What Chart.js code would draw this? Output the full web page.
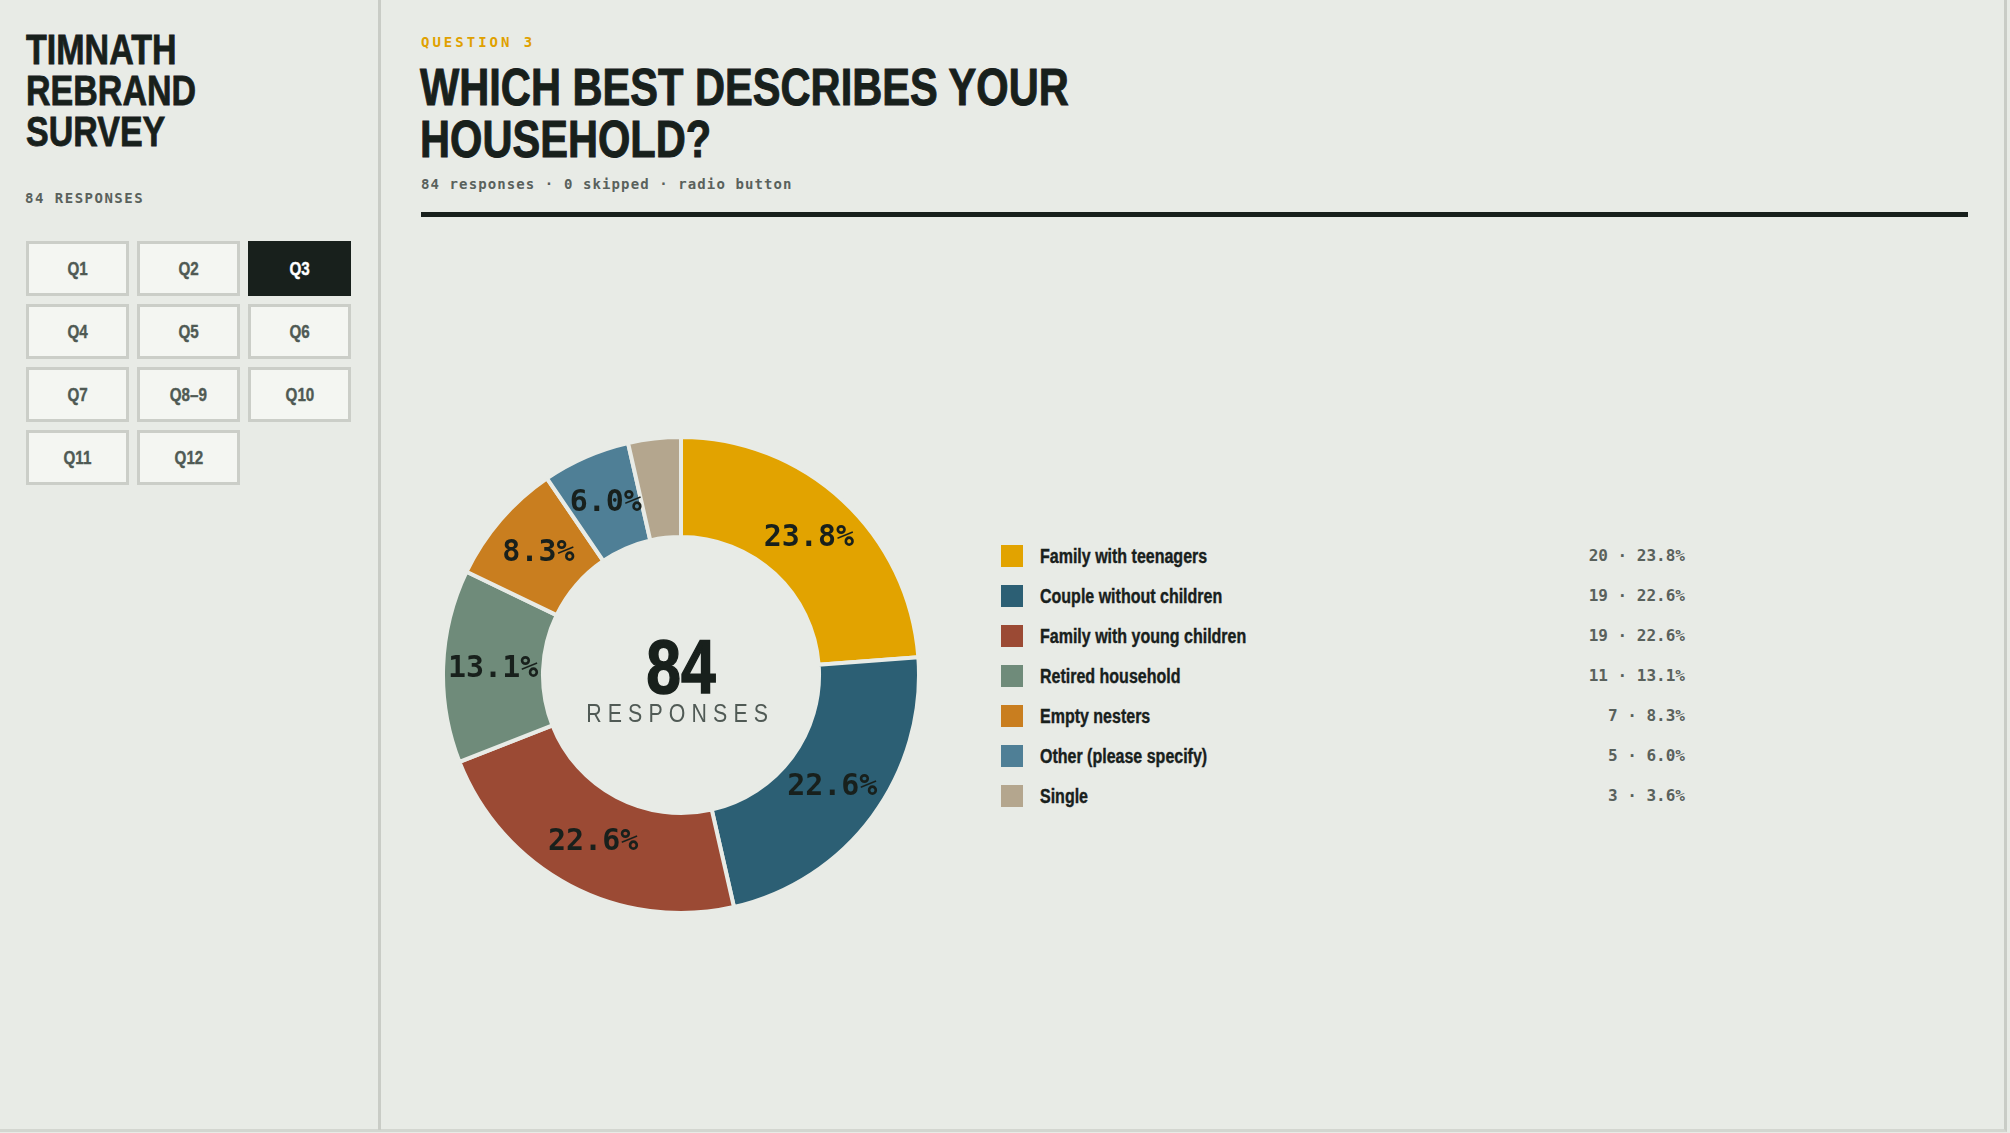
<!DOCTYPE html>
<html>
<head>
<meta charset="utf-8">
<script src="https://cdn.jsdelivr.net/npm/chart.js@4"></script>
<style>
  html, body { margin: 0; padding: 0; }
  body {
    width: 2010px; height: 1133px; overflow: hidden;
    background: #e8ebe6; position: relative;
    font-family: "Liberation Sans", Arial, sans-serif;
    color: #18201c;
  }
  .frame {
    position: absolute; left: 0; top: 0; width: 2004px; height: 1129px;
    border-right: 3px solid #c9ccc6; border-bottom: 3px solid #d3d6d0;
  }
  .divider { position: absolute; left: 378px; top: 0; width: 3px; height: 1130px; background: #c9ccc6; }
  .abs { position: absolute; white-space: nowrap; }
  /* no narrow face installed, so squeeze the bold sans sideways */
  .nar { display: inline-block; transform: scaleX(0.8); transform-origin: left center; white-space: nowrap; }
  .mono { font-family: "DejaVu Sans Mono", "Liberation Mono", monospace; }
  .side-title { left: 26px; font-size: 42px; line-height: 40px; font-weight: bold; -webkit-text-stroke: 0.8px #18201c; }
  .side-title .nar { transform: scaleX(0.81); }
  #side-count { left: 25px; top: 191px; font-size: 14px; line-height: 14px; letter-spacing: 1.5px; font-weight: bold; color: #59615c; }
  .qbtn {
    position: absolute; width: 97px; height: 49px; box-sizing: content-box;
    border: 3px solid #cbcec8; background: #f4f6f2;
    font-weight: bold; font-size: 19px; line-height: 49px; text-align: center; color: #4f5a54;
    -webkit-text-stroke: 0.4px #4f5a54;
  }
  .qbtn .nar { transform-origin: center center; }
  .qbtn.active { background: #18201c; border-color: #18201c; color: #ffffff; -webkit-text-stroke: 0.4px #ffffff; }
  #q-label { left: 421px; top: 35px; font-size: 14px; line-height: 14px; letter-spacing: 3px; font-weight: bold; color: #e0a100; }
  .q-title { left: 420px; font-size: 52px; line-height: 50px; font-weight: bold; -webkit-text-stroke: 1px #18201c; }
  #q-meta { left: 421px; top: 177px; font-size: 14px; line-height: 14px; letter-spacing: 1.1px; font-weight: bold; color: #59615c; }
  #q-rule { position: absolute; left: 421px; top: 212px; width: 1547px; height: 5px; background: #18201c; }
  #chart-box { position: absolute; left: 441px; top: 435px; width: 480px; height: 480px; }
  #legend { position: absolute; left: 1001px; top: 545px; width: 684px; }
  .row { display: flex; align-items: center; height: 22px; margin-bottom: 18px; }
  .sw { width: 22px; height: 22px; flex: none; }
  .lab { margin-left: 17px; font-size: 20px; line-height: 22px; font-weight: bold; flex: 1; -webkit-text-stroke: 0.4px #18201c; }
  .val { font-family: "DejaVu Sans Mono", "Liberation Mono", monospace; font-size: 16px; line-height: 22px; font-weight: bold; color: #59615c; }
</style>
</head>
<body>
<div class="frame"></div>
<div class="divider"></div>

<div class="abs side-title" style="top:30px"><span class="nar">TIMNATH</span></div>
<div class="abs side-title" style="top:71px"><span class="nar">REBRAND</span></div>
<div class="abs side-title" style="top:112px"><span class="nar">SURVEY</span></div>
<div id="side-count" class="abs mono">84 RESPONSES</div>
<div id="qnav"></div>

<div id="q-label" class="abs mono">QUESTION 3</div>
<div class="abs q-title" style="top:62px"><span class="nar">WHICH BEST DESCRIBES YOUR</span></div>
<div class="abs q-title" style="top:114px"><span class="nar">HOUSEHOLD?</span></div>
<div id="q-meta" class="abs mono">84 responses · 0 skipped · radio button</div>
<div id="q-rule"></div>

<div id="chart-box"><canvas id="donut"></canvas></div>
<div id="legend"></div>

<script>
// answers for question 3, in the order of the ring (clockwise from the top)
const answers = ['Family with teenagers', 'Couple without children', 'Family with young children',
  'Retired household', 'Empty nesters', 'Other (please specify)', 'Single'];
const counts = [20, 19, 19, 11, 7, 5, 3];
const sliceColors = ['#e2a300', '#2c5f74', '#9b4a34', '#6f8b7a', '#c97e1f', '#4f7f96', '#b4a68e'];
const questions = ['Q1', 'Q2', 'Q3', 'Q4', 'Q5', 'Q6', 'Q7', 'Q8–9', 'Q10', 'Q11', 'Q12'];
const currentQuestion = 'Q3';

const total = counts.reduce((a, b) => a + b, 0);
const pct = v => (v / total * 100).toFixed(1);

// sidebar question buttons
let qnav = document.getElementById('qnav');
questions.forEach((q, i) => {
  let b = document.createElement('div');
  b.className = 'qbtn' + (q == currentQuestion ? ' active' : '');
  b.style.left = (26 + (i % 3) * 111) + 'px';
  b.style.top = (241 + Math.floor(i / 3) * 63) + 'px';
  b.innerHTML = '<span class="nar">' + q + '</span>';
  qnav.appendChild(b);
});

// legend on the right
let legend = document.getElementById('legend');
answers.forEach((name, i) => {
  let row = document.createElement('div');
  row.className = 'row';
  row.innerHTML = '<div class="sw" style="background:' + sliceColors[i] + '"></div>' +
    '<div class="lab"><span class="nar">' + name + '</span></div>' +
    '<div class="val">' + counts[i] + ' · ' + pct(counts[i]) + '%</div>';
  legend.appendChild(row);
});

// percent labels on the ring + the total in the hole
const ringText = {
  id: 'ringText',
  afterDatasetsDraw(chart) {
    const ctx = chart.ctx;
    const meta = chart.getDatasetMeta(0);
    ctx.save();
    ctx.fillStyle = '#18201c';
    ctx.textAlign = 'center';
    ctx.textBaseline = 'middle';
    ctx.font = 'bold 30px "DejaVu Sans Mono", monospace';
    meta.data.forEach((arc, i) => {
      if (counts[i] / total < 0.05) return; // too thin for a label
      const p = arc.tooltipPosition();
      ctx.fillText(pct(counts[i]) + '%', p.x, p.y + 1);
    });

    const cx = (chart.chartArea.left + chart.chartArea.right) / 2;
    const cy = (chart.chartArea.top + chart.chartArea.bottom) / 2;
    ctx.textBaseline = 'alphabetic';
    ctx.translate(cx, cy);
    ctx.save();
    ctx.scale(0.82, 1);
    ctx.font = 'bold 76px "Liberation Sans", Arial, sans-serif';
    ctx.strokeStyle = '#18201c';
    ctx.lineWidth = 1.5;
    ctx.fillText(String(total), 0, 18);
    ctx.strokeText(String(total), 0, 18);
    ctx.restore();
    ctx.scale(0.82, 1);
    ctx.font = '26px "Liberation Sans", Arial, sans-serif';
    ctx.fillStyle = '#505a55';
    ctx.letterSpacing = '7.5px';
    ctx.fillText('RESPONSES', -1, 47);
    ctx.restore();
  }
};

new Chart(document.getElementById('donut'), {
  type: 'doughnut',
  data: {
    labels: answers,
    datasets: [{
      data: counts,
      backgroundColor: sliceColors,
      borderColor: '#e8ebe6',
      borderWidth: 4
    }]
  },
  options: {
    responsive: true,
    maintainAspectRatio: false,
    animation: false,
    cutout: '58%',
    layout: { padding: 0 },
    plugins: {
      legend: { display: false },
      tooltip: { enabled: false }
    }
  },
  plugins: [ringText]
});
</script>
</body>
</html>
